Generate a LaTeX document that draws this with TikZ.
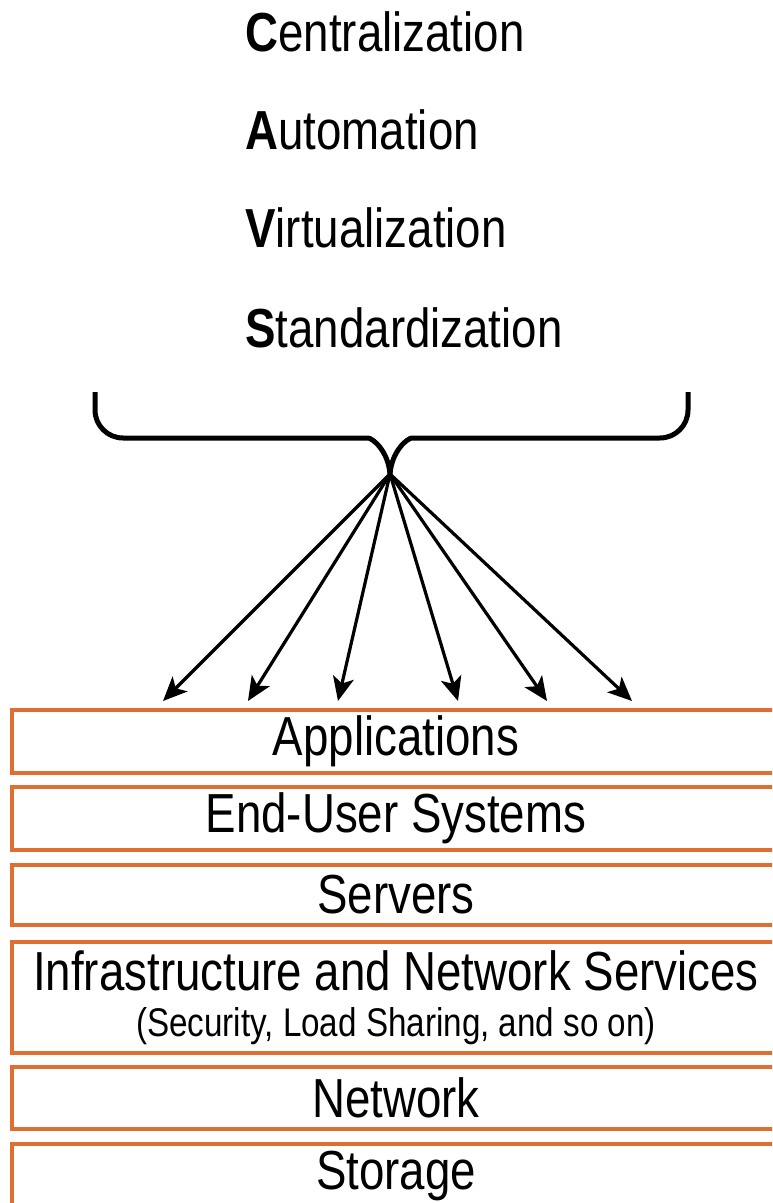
\documentclass[tikz,border=0pt]{standalone}
\usepackage{fontspec}
\setmainfont{Liberation Sans}[FakeStretch=0.83]
\usepackage{xcolor}
\usetikzlibrary{arrows.meta}

\definecolor{layerorange}{RGB}{222,110,50}

\begin{document}
\begin{tikzpicture}[x=0.5pt, y=-0.5pt,
    heading/.style={anchor=base west, inner sep=0pt, font=\fontsize{27.5}{32}\selectfont},
    layer/.style={draw=layerorange, line width=1.6pt, minimum width=384pt, inner sep=0pt,
        align=center, font=\fontsize{27.5}{32}\selectfont},
    fan/.style={line width=1.6pt, -{Stealth[length=12pt, width=10.5pt, inset=3pt]}}]
    \useasboundingbox (0,0) rectangle (772,1203);
    \clip (0,0) rectangle (772,1203);

    % Headings
    \node[heading] (cent) at (245,52) {\textbf{C}entralization};
    \node[heading] (auto) at (245,150) {\textbf{A}utomation};
    \node[heading] (virt) at (245,248) {\textbf{V}irtualization};
    \node[heading] (stan) at (245,347) {\textbf{S}tandardization};

    % Brace
    \coordinate (tip) at (390,474);
    \draw[line width=2.5pt, rounded corners=14pt]
        (95,392) -- (95,438) -- (340,438) .. controls (372,438) and (388,450) .. (tip);
    \draw[line width=2.5pt, rounded corners=14pt]
        (688,392) -- (688,438) -- (440,438) .. controls (408,438) and (392,450) .. (tip);

    % Arrows
    \foreach \x [count=\i] in {163,248,338,458,547,632} {
        \coordinate (end\i) at (\x,701);
        \draw[fan] (tip) -- (end\i);
    }

    % Layers
    \node[layer, minimum height=31.5pt] (apps) at (396,741.5) {Applications};
    \node[layer, minimum height=31.5pt] (enduser) at (396,818.5) {End-User Systems};
    \node[layer, minimum height=30pt] (servers) at (396,895) {Servers};
    \node[layer, minimum height=55.5pt] (infra) at (396,997.5)
        {Infrastructure and Network Services\\[-9pt]
         {\fontsize{20}{24}\selectfont (Security, Load Sharing, and so on)}};
    \node[layer, minimum height=31pt] (network) at (396,1098) {Network};
    \node[layer, minimum height=32pt] (storage) at (396,1176) {Storage};
\end{tikzpicture}
\end{document}
